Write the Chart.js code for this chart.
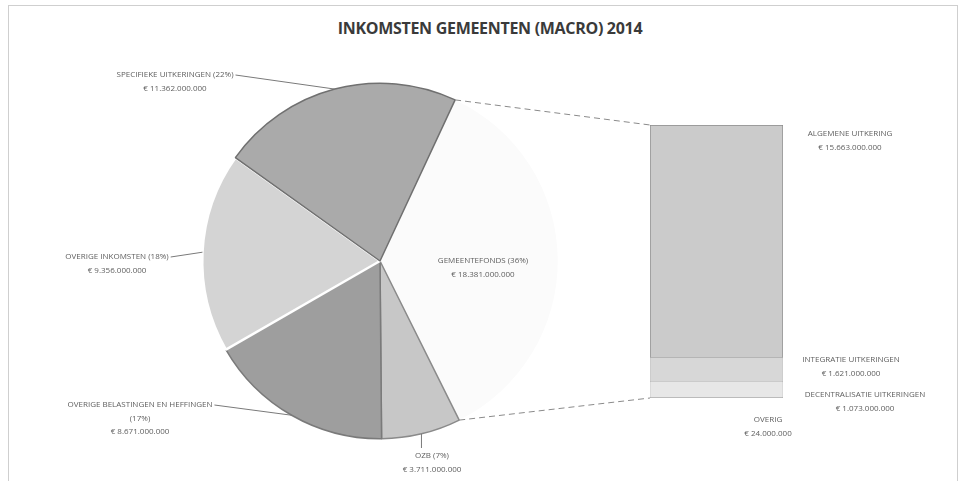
<!DOCTYPE html>
<html lang="nl">
<head>
<meta charset="UTF-8" />
<title>Inkomsten gemeenten (macro) 2014</title>
<script src="https://cdn.jsdelivr.net/npm/chart.js@4.4.1/dist/chart.umd.min.js"></script>
<style>
body { margin: 0; background: #fff; }
#wrap { position: relative; width: 964px; height: 481px; overflow: hidden; }
#frame { position: absolute; left: 8px; top: 5px; width: 948px; height: 480px; border: 1px solid #cfcfcf; border-bottom: none; }
#title { position: absolute; top: 17px; left: 0; width: 980px; text-align: center; font: bold 16px "Open Sans"; color: #3a3a3a; letter-spacing: -0.3px; }
canvas { position: absolute; left: 0; top: 0; }
</style>
</head>
<body>
<div id="wrap">
  <div id="frame"></div>
  <div id="title">INKOMSTEN GEMEENTEN (MACRO) 2014</div>
  <canvas id="pie" width="964" height="481"></canvas>
  <canvas id="bar" width="964" height="481"></canvas>
</div>

<script>
// pie: income sources, clockwise from the exploded slice
const pieLabels = ['GEMEENTEFONDS', 'OZB', 'OVERIGE BELASTINGEN EN HEFFINGEN', 'OVERIGE INKOMSTEN', 'SPECIFIEKE UITKERINGEN'];
const pieValues = [18381000000, 3711000000, 8671000000, 9356000000, 11362000000];

// bar: breakdown of the gemeentefonds, top to bottom
const barLabels = ['ALGEMENE UITKERING', 'INTEGRATIE UITKERINGEN', 'DECENTRALISATIE UITKERINGEN', 'OVERIG'];
const barValues = [15663000000, 1621000000, 1073000000, 24000000];

const pieColors = ['#fbfbfb', '#c7c7c7', '#9e9e9e', '#d4d4d4', '#aaaaaa'];
const pieBorders = ['#fbfbfb', '#8a8a8a', '#7a7a7a', '#ffffff', '#707070'];
const barColors = ['#cbcbcb', '#d7d7d7', '#e7e7e7', '#c2c2c2'];

const total = pieValues.reduce((a, b) => a + b, 0);
const barTotal = barValues.reduce((a, b) => a + b, 0);

function euro(v) {
  return '\u20AC ' + String(v).replace(/\B(?=(\d{3})+(?!\d))/g, '.');
}
function pct(v) {
  return Math.round(v / total * 100) + '%';
}

const labelFont = '8px "Open Sans"';
const labelColor = '#5e5e5e';

function drawLines(ctx, lines, x, y) {
  ctx.textAlign = 'center';
  ctx.textBaseline = 'middle';
  lines.forEach((t, i) => ctx.fillText(t, x, y + i * 13.5));
}

// where the label text sits for each slice
const pieLabelPos = [
  {x: 483, y: 261},
  {x: 432, y: 456},
  {x: 140, y: 405},
  {x: 117, y: 257},
  {x: 175, y: 75}
];

const pieText = pieLabels.map((l, i) => {
  if (i == 2) return [l, '(' + pct(pieValues[i]) + ')', euro(pieValues[i])];
  return [l + ' (' + pct(pieValues[i]) + ')', euro(pieValues[i])];
});

const pieLabelPlugin = {
  id: 'pieLabels',
  afterDatasetsDraw(chart) {
    const ctx = chart.ctx;
    const arcs = chart.getDatasetMeta(0).data;
    ctx.save();
    ctx.font = labelFont;
    ctx.fillStyle = labelColor;
    ctx.strokeStyle = '#7a7a7a';
    ctx.lineWidth = 1;
    arcs.forEach((arc, i) => {
      const p = pieLabelPos[i];
      const lines = pieText[i];
      drawLines(ctx, lines, p.x, p.y);
      if (i == 0) return;
      const mid = (arc.startAngle + arc.endAngle) / 2;
      const ex = arc.x + Math.cos(mid) * arc.outerRadius;
      const ey = arc.y + Math.sin(mid) * arc.outerRadius;
      ctx.beginPath();
      if (i == 1) {
        ctx.moveTo(ex, ey);
        ctx.lineTo(ex, p.y - 8);
      } else {
        const w = ctx.measureText(lines[0]).width;
        ctx.moveTo(p.x + w / 2 + 2, p.y);
        ctx.lineTo(ex, ey);
      }
      ctx.stroke();
    });
    ctx.restore();
  }
};

const pieChart = new Chart(document.getElementById('pie'), {
  type: 'pie',
  data: {
    labels: pieLabels,
    datasets: [{
      data: pieValues,
      backgroundColor: pieColors,
      borderColor: pieBorders,
      borderWidth: [0, 1.5, 1.5, 2.5, 1.5]
    }]
  },
  options: {
    responsive: false,
    animation: false,
    rotation: 25,
    layout: { padding: { left: 201, right: 405, top: 82, bottom: 41 } },
    plugins: { legend: { display: false }, tooltip: { enabled: false } }
  },
  plugins: [pieLabelPlugin]
});

const barLabelPos = [
  {x: 850, y: 134},
  {x: 851, y: 360},
  {x: 865, y: 395},
  {x: 768, y: 420}
];

const barLabelPlugin = {
  id: 'barLabels',
  afterDatasetsDraw(chart) {
    const ctx = chart.ctx;
    ctx.save();
    // dashed connectors from the gemeentefonds slice to the bar
    const arc = pieChart.getDatasetMeta(0).data[0];
    const topBar = chart.getDatasetMeta(chart.data.datasets.length - 1).data[0];
    const bottomBar = chart.getDatasetMeta(0).data[0];
    const left = topBar.x - topBar.width / 2;
    ctx.strokeStyle = '#8a8a8a';
    ctx.lineWidth = 1;
    ctx.setLineDash([6, 4]);
    ctx.beginPath();
    ctx.moveTo(arc.x + Math.cos(arc.startAngle) * arc.outerRadius, arc.y + Math.sin(arc.startAngle) * arc.outerRadius);
    ctx.lineTo(left, topBar.y);
    ctx.moveTo(arc.x + Math.cos(arc.endAngle) * arc.outerRadius, arc.y + Math.sin(arc.endAngle) * arc.outerRadius);
    ctx.lineTo(left, bottomBar.base);
    ctx.stroke();
    ctx.setLineDash([]);

    ctx.font = labelFont;
    ctx.fillStyle = labelColor;
    barLabels.forEach((l, i) => {
      const p = barLabelPos[i];
      drawLines(ctx, [l, euro(barValues[i])], p.x, p.y);
    });
    ctx.restore();
  }
};

// stack from the bottom up, so reverse the top-to-bottom order
const barDatasets = barLabels.map((l, i) => ({
  label: l,
  data: [barValues[i]],
  backgroundColor: barColors[i],
  borderColor: '#8c8c8c',
  borderWidth: i == 0 ? 1 : 0.5
})).reverse();

new Chart(document.getElementById('bar'), {
  type: 'bar',
  data: { labels: ['GEMEENTEFONDS'], datasets: barDatasets },
  options: {
    responsive: false,
    animation: false,
    layout: { padding: { left: 650, right: 181, top: 125, bottom: 83 } },
    datasets: { bar: { categoryPercentage: 1, barPercentage: 1 } },
    scales: {
      x: { display: false, stacked: true },
      y: { display: false, stacked: true, min: 0, max: barTotal }
    },
    plugins: { legend: { display: false }, tooltip: { enabled: false } }
  },
  plugins: [barLabelPlugin]
});
</script>
</body>
</html>
